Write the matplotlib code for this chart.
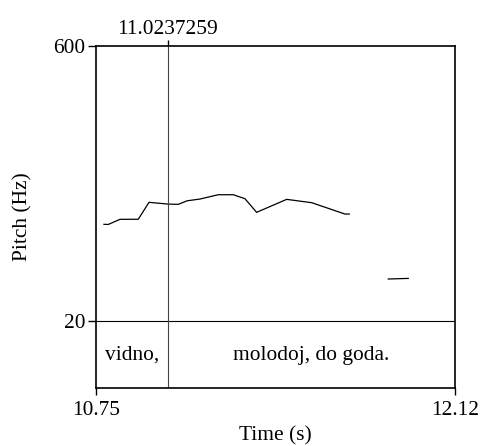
import matplotlib
matplotlib.use("Agg")
import matplotlib.pyplot as plt

plt.rcParams['font.family'] = ['Liberation Serif', 'DejaVu Serif']

# pitch contour (time s, Hz), two voiced stretches
t1 = [10.7805, 10.797, 10.8416, 10.9114, 10.9523, 11.026, 11.064, 11.098, 11.147,
      11.2167, 11.274, 11.3186, 11.363, 11.4777, 11.5731, 11.700, 11.7167]
f1 = [223.3, 223.0, 233.8, 234.0, 269.7, 266.0, 265.5, 273.0, 276.7,
      285.8, 285.8, 277.4, 248.6, 276.0, 269.0, 245.0, 245.0]
t2 = [11.8655, 11.9418]
f2 = [107.7, 109.0]

cursor = 11.0237259
xmin, xmax = 10.75, 12.12
fmin, fmax = 20, 600
words = ["vidno,", "molodoj, do goda."]
word_t = [(xmin + cursor) / 2, (cursor + xmax) / 2]

fs = 15.4
fig = plt.figure(figsize=(4.84, 4.46), dpi=100)
ax = fig.add_axes([0.1983, 0.130, 0.7417, 0.7668])

ax.plot(t1, f1, color='black', lw=0.9)
ax.plot(t2, f2, color='black', lw=0.9)

ybot = fmin - (388 - 320.5) / 274.5 * (fmax - fmin)
ax.set_xlim(xmin, xmax)
ax.set_ylim(ybot, fmax)

ax.axhline(fmin, color='black', lw=0.8)
ax.axvline(cursor, color='#444444', lw=0.8)
for w, t in zip(words, word_t):
    ax.text(t, -53, w, ha='center', va='center', fontsize=fs)

ax.set_yticks([fmin, fmax])
ax.set_yticklabels([str(fmin), str(fmax)], fontsize=fs)
ax.set_xticks([xmin, xmax])
ax.set_xticklabels([f"{xmin:.2f}", f"{xmax:.2f}"], fontsize=fs)
ax.tick_params(axis='x', length=5, width=1, pad=4)
ax.tick_params(axis='y', length=6, width=1, pad=1.5)
ax.set_xlabel("Time (s)", fontsize=fs, labelpad=5)
ax.set_ylabel("Pitch (Hz)", fontsize=fs, labelpad=15)

top = ax.secondary_xaxis('top')
top.set_xticks([cursor])
top.set_xticklabels([f"{cursor}"], fontsize=fs)
top.tick_params(length=4, width=1, pad=1)

for s in ax.spines.values():
    s.set_linewidth(1.2)
top.spines['top'].set_visible(False)

fig.savefig("out.png", dpi=100)
